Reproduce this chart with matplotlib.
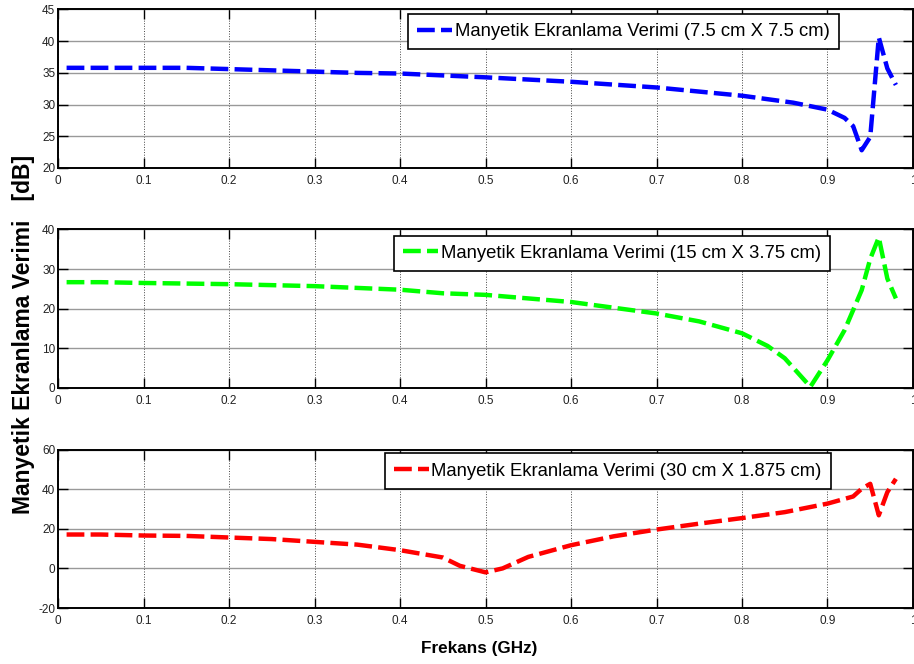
import matplotlib
matplotlib.use("Agg")

import matplotlib.pyplot as plt

plt.rcParams["font.family"] = ["Liberation Sans", "DejaVu Sans"]
plt.rcParams["axes.unicode_minus"] = False

# readings from the reference (frequency in GHz, efficiency in dB)
freq_a = [0.01, 0.05, 0.10, 0.15, 0.20, 0.25, 0.30, 0.35, 0.40, 0.45, 0.50,
          0.60, 0.70, 0.80, 0.86, 0.90, 0.92, 0.93, 0.94, 0.95, 0.96, 0.97, 0.98]
se_a = [35.8, 35.8, 35.8, 35.8, 35.6, 35.4, 35.2, 35.0, 34.9, 34.6, 34.3,
        33.6, 32.7, 31.4, 30.3, 29.2, 27.9, 26.6, 22.8, 24.9, 40.6, 35.7, 33.1]

freq_b = [0.01, 0.05, 0.10, 0.20, 0.30, 0.40, 0.45, 0.50, 0.60, 0.70, 0.75,
          0.80, 0.83, 0.85, 0.88, 0.90, 0.92, 0.94, 0.95, 0.96, 0.97, 0.98]
se_b = [26.7, 26.7, 26.5, 26.2, 25.7, 24.8, 23.9, 23.5, 21.7, 18.8, 16.8,
        13.8, 10.6, 7.5, 0.3, 7.0, 14.6, 24.7, 32.6, 38.0, 27.6, 22.6]

freq_c = [0.01, 0.05, 0.10, 0.15, 0.20, 0.25, 0.30, 0.35, 0.40, 0.45, 0.47,
          0.50, 0.52, 0.55, 0.60, 0.65, 0.70, 0.75, 0.80, 0.85, 0.90, 0.93,
          0.94, 0.95, 0.96, 0.97, 0.98]
se_c = [17.1, 17.1, 16.6, 16.4, 15.6, 14.8, 13.4, 12.0, 9.2, 5.5, 1.3,
        -2.0, 0.0, 5.8, 11.7, 16.2, 19.6, 22.6, 25.4, 28.4, 32.7, 36.3,
        40.2, 42.7, 26.8, 38.5, 45.2]

labels = ["Manyetik Ekranlama Verimi (7.5 cm X 7.5 cm)",
          "Manyetik Ekranlama Verimi (15 cm X 3.75 cm)",
          "Manyetik Ekranlama Verimi (30 cm X 1.875 cm)"]
colors = ["#0000ff", "#00ff00", "#ff0000"]
ylims = [(20, 45), (0, 40), (-20, 60)]
ysteps = [5, 10, 20]
x_ticks = [i / 10 for i in range(11)]
x_ticklabels = ["0"] + ["%.1f" % t for t in x_ticks[1:-1]] + ["1"]

fig = plt.figure(figsize=(9.14, 6.64), dpi=100)

bottoms = [0.747, 0.4157, 0.0843]
legend_anchor = [(0.913, 0.972), (0.903, 0.962), (0.904, 0.975)]
series = [(freq_a, se_a), (freq_b, se_b), (freq_c, se_c)]

for i in range(3):
    ax = fig.add_axes([0.0635, bottoms[i], 0.9354, 0.2387])
    fx, fy = series[i]
    ax.plot(fx, fy, color=colors[i], lw=3.2, dashes=(4.0, 1.4), label=labels[i])
    lo, hi = ylims[i]
    ax.set_xlim(0, 1)
    ax.set_ylim(lo, hi)
    ax.set_xticks(x_ticks)
    ax.set_xticklabels(x_ticklabels)
    ax.set_yticks(list(range(lo, hi + 1, ysteps[i])))
    ax.tick_params(direction="in", length=7, width=1, top=True, right=True,
                   labelsize=8.5, labelcolor="#222222", pad=5)
    ax.tick_params(axis="y", pad=2)
    ax.grid(True, axis="x", color="#444444", ls=":", lw=0.7)
    ax.grid(True, axis="y", color="#999999", ls="-", lw=1)
    for s in ax.spines.values():
        s.set_linewidth(1.4)
    leg = ax.legend(loc="upper right", bbox_to_anchor=legend_anchor[i],
                    fontsize=13.3, handlelength=1.9, handletextpad=0.12,
                    borderpad=0.5, fancybox=False, framealpha=1,
                    borderaxespad=0)
    leg.get_frame().set_edgecolor("black")
    leg.get_frame().set_linewidth(1.2)

fig.text(0.026, 0.496, "Manyetik Ekranlama Verimi   [dB]", rotation=90,
         ha="center", va="center", fontsize=16.5, fontweight="bold")
fig.text(0.524, 0.024, "Frekans (GHz)", ha="center", va="center",
         fontsize=12.3, fontweight="bold")

fig.savefig("out.png", dpi=100)
